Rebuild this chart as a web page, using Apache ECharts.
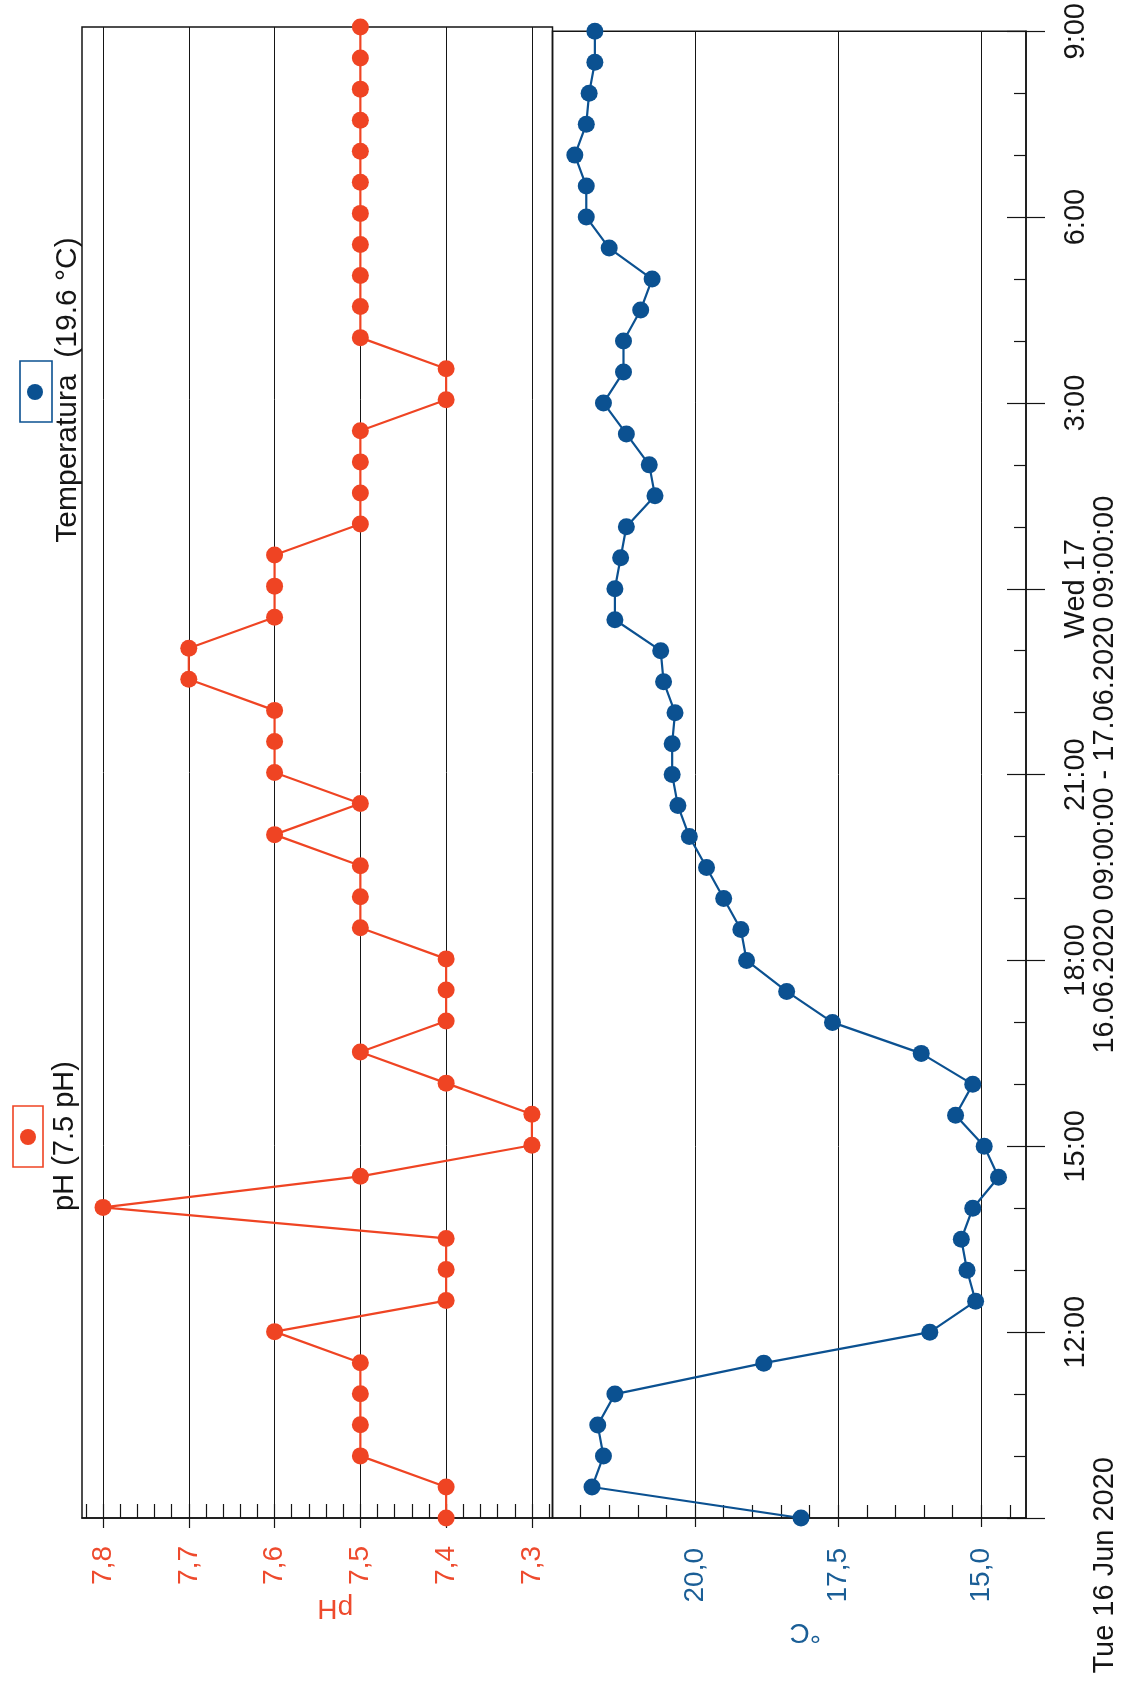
<!DOCTYPE html>
<html>
<head>
<meta charset="utf-8">
<script src="https://cdn.jsdelivr.net/npm/echarts@6/dist/echarts.min.js"></script>
<style>
html,body{margin:0;padding:0;background:#ffffff;}
#chart{width:1135px;height:1684px;}
</style>
</head>
<body>
<div id="chart"></div>
<script>
// ---- data (every 30 minutes) ----
const times = [
 '2020-06-16 09:00','2020-06-16 09:30','2020-06-16 10:00','2020-06-16 10:30','2020-06-16 11:00','2020-06-16 11:30',
 '2020-06-16 12:00','2020-06-16 12:30','2020-06-16 13:00','2020-06-16 13:30','2020-06-16 14:00','2020-06-16 14:30',
 '2020-06-16 15:00','2020-06-16 15:30','2020-06-16 16:00','2020-06-16 16:30','2020-06-16 17:00','2020-06-16 17:30',
 '2020-06-16 18:00','2020-06-16 18:30','2020-06-16 19:00','2020-06-16 19:30','2020-06-16 20:00','2020-06-16 20:30',
 '2020-06-16 21:00','2020-06-16 21:30','2020-06-16 22:00','2020-06-16 22:30','2020-06-16 23:00','2020-06-16 23:30',
 '2020-06-17 00:00','2020-06-17 00:30','2020-06-17 01:00','2020-06-17 01:30','2020-06-17 02:00','2020-06-17 02:30',
 '2020-06-17 03:00','2020-06-17 03:30','2020-06-17 04:00','2020-06-17 04:30','2020-06-17 05:00','2020-06-17 05:30',
 '2020-06-17 06:00','2020-06-17 06:30','2020-06-17 07:00','2020-06-17 07:30','2020-06-17 08:00','2020-06-17 08:30',
 '2020-06-17 09:00'
];
const phValues = [
 7.4,7.4,7.5,7.5,7.5,7.5,
 7.6,7.4,7.4,7.4,7.8,7.5,
 7.3,7.3,7.4,7.5,7.4,7.4,
 7.4,7.5,7.5,7.5,7.6,7.5,
 7.6,7.6,7.6,7.7,7.7,7.6,
 7.6,7.6,7.5,7.5,7.5,7.5,
 7.4,7.4,7.5,7.5,7.5,7.5,
 7.5,7.5,7.5,7.5,7.5,7.5,
 7.5
];
const tempValues = [
 18.15,21.8,21.6,21.7,21.4,18.8,
 15.9,15.1,15.25,15.35,15.15,14.7,
 14.95,15.45,15.15,16.05,17.6,18.4,
 19.1,19.2,19.5,19.8,20.1,20.3,
 20.4,20.4,20.35,20.55,20.6,21.4,
 21.4,21.3,21.2,20.7,20.8,21.2,
 21.6,21.25,21.25,20.95,20.75,21.5,
 21.9,21.9,22.1,21.9,21.85,21.75,
 21.75
];
const phTicks = [7.3, 7.4, 7.5, 7.6, 7.7, 7.8];
const tempTicks = [15.0, 17.5, 20.0];
const timeTickLabels = ['Tue 16 Jun 2020','12:00','15:00','18:00','21:00','Wed 17','3:00','6:00','9:00'];
const axisTitle = '16.06.2020 09:00:00 - 17.06.2020 09:00:00';
const phLegend = 'pH (7.5 pH)';
const tempLegend = 'Temperatura  (19.6 °C)';

// ---- helpers ----
const startMs = Date.parse(times[0].replace(' ', 'T') + ':00Z');
const hours = times.map(t => (Date.parse(t.replace(' ', 'T') + ':00Z') - startMs) / 3600000);
const totalHours = hours[hours.length - 1];

const phMin = 7.276, phMax = 7.8245;
const tMin = 14.22, tMax = 22.49;
function stepList(from, to, step) {
  const out = [];
  for (let k = 0; from + k * step <= to + 1e-9; k++) out.push(+(from + k * step).toFixed(3));
  return out;
}
const phMinor = stepList(7.28, 7.82, 0.02);
const tempMinor = stepList(14.5, 22.0, 0.5);

const FONT = '"Liberation Sans", Arial, sans-serif';
const PH_COLOR = '#ef4423';
const PH_TEXT = '#ee4a2d';
const T_COLOR = '#0b5191';
const T_TEXT = '#1a5e96';
const INK = '#151515';

const comma = v => Number(v).toFixed(1).replace('.', ',');

const chart = echarts.init(document.getElementById('chart'));
const option = {
  backgroundColor: '#ffffff',
  animation: false,
  grid: [
    {left: 82, top: 27, width: 470.5, height: 1491, show: true, borderColor: INK, borderWidth: 1.5, backgroundColor: 'transparent'},
    {left: 552.5, top: 27, width: 473.5, height: 1491, show: true, borderColor: INK, borderWidth: 1.5, backgroundColor: 'transparent'}
  ],
  xAxis: [
    { // pH main
      gridIndex: 0, type: 'value', position: 'bottom', inverse: true, min: phMin, max: phMax,
      axisLine: {show: true, lineStyle: {color: INK, width: 1.5}},
      axisTick: {show: true, customValues: phTicks, length: 10, lineStyle: {color: INK, width: 1.2}},
      axisLabel: {show: true, customValues: phTicks, rotate: 90, margin: 28, color: PH_TEXT, fontSize: 28, fontFamily: FONT, formatter: comma},
      splitLine: {show: true, lineStyle: {color: INK, width: 1}},
      name: 'pH', nameLocation: 'middle', nameGap: 76, nameRotate: 180,
      nameTextStyle: {color: PH_TEXT, fontSize: 28, fontFamily: FONT, padding: [0, 36, 0, 0]}
    },
    { // pH minor ticks
      gridIndex: 0, type: 'value', position: 'bottom', inverse: true, min: phMin, max: phMax,
      axisLine: {show: false},
      axisTick: {show: true, inside: true, customValues: phMinor, length: 14, lineStyle: {color: INK, width: 1.2}},
      axisLabel: {show: false}, splitLine: {show: false}
    },
    { // temperature main
      gridIndex: 1, type: 'value', position: 'bottom', inverse: true, min: tMin, max: tMax,
      axisLine: {show: true, lineStyle: {color: INK, width: 1.5}},
      axisTick: {show: true, customValues: tempTicks, length: 9, lineStyle: {color: INK, width: 1.2}},
      axisLabel: {show: true, customValues: tempTicks, rotate: 90, margin: 30, color: T_TEXT, fontSize: 28, fontFamily: FONT, formatter: comma},
      splitLine: {show: true, lineStyle: {color: INK, width: 1}},
      name: '°C', nameLocation: 'middle', nameGap: 100, nameRotate: 180,
      nameTextStyle: {color: T_TEXT, fontSize: 28, fontFamily: FONT, padding: [0, 32, 0, 0]}
    },
    { // temperature minor ticks
      gridIndex: 1, type: 'value', position: 'bottom', inverse: true, min: tMin, max: tMax,
      axisLine: {show: false},
      axisTick: {show: true, inside: true, customValues: tempMinor, length: 13, lineStyle: {color: INK, width: 1.2}},
      axisLabel: {show: false}, splitLine: {show: false}
    }
  ],
  yAxis: [
    { // time axis for pH panel (not drawn)
      gridIndex: 0, type: 'value', min: 0, max: totalHours, interval: 3, show: false
    },
    { // time axis main (right)
      gridIndex: 1, type: 'value', position: 'right', min: 0, max: totalHours, interval: 3,
      axisLine: {show: true, lineStyle: {color: INK, width: 1.5}},
      axisTick: {show: true, length: 19, lineStyle: {color: INK, width: 1.2}},
      axisLabel: {show: true, rotate: 90, margin: 35, color: INK, fontSize: 29, fontFamily: FONT,
        showMinLabel: true, showMaxLabel: true,
        formatter: v => { const i = Math.round(v / 3); return i === 0 ? '' : timeTickLabels[i]; }},
      splitLine: {show: false},
      name: axisTitle, nameLocation: 'middle', nameGap: 64, nameRotate: 90,
      nameTextStyle: {color: INK, fontSize: 29, fontFamily: FONT}
    },
    { // inside ticks + hourly minor ticks
      gridIndex: 1, type: 'value', position: 'right', min: 0, max: totalHours, interval: 3,
      axisLine: {show: false},
      axisTick: {show: true, inside: true, length: 19, lineStyle: {color: INK, width: 1.2}},
      minorTick: {show: true, splitNumber: 3, length: 12, lineStyle: {color: INK, width: 1.2}},
      axisLabel: {show: false}, splitLine: {show: false}
    }
  ],
  graphic: [
    { // first time label
      type: 'text', x: 1105, y: 1457, rotation: Math.PI / 2,
      style: {text: timeTickLabels[0], font: '29px ' + FONT, fill: INK, align: 'right', textAlign: 'right', verticalAlign: 'middle', textVerticalAlign: 'middle'}
    },
    // temperature legend
    {type: 'rect', shape: {x: 20, y: 361, width: 32, height: 61}, style: {fill: 'none', stroke: T_COLOR, lineWidth: 1.6}},
    {type: 'circle', shape: {cx: 35, cy: 392, r: 8}, style: {fill: T_COLOR}},
    {type: 'text', x: 68, y: 390, rotation: Math.PI / 2,
     style: {text: tempLegend, font: '30px ' + FONT, fill: INK, align: 'center', textAlign: 'center', verticalAlign: 'middle', textVerticalAlign: 'middle'}},
    // pH legend
    {type: 'rect', shape: {x: 13, y: 1106, width: 30, height: 61}, style: {fill: 'none', stroke: PH_COLOR, lineWidth: 1.6}},
    {type: 'circle', shape: {cx: 28, cy: 1137, r: 8}, style: {fill: PH_COLOR}},
    {type: 'text', x: 65, y: 1136, rotation: Math.PI / 2,
     style: {text: phLegend, font: '29px ' + FONT, fill: INK, align: 'center', textAlign: 'center', verticalAlign: 'middle', textVerticalAlign: 'middle'}}
  ],
  series: [
    {
      name: 'pH', type: 'line', xAxisIndex: 0, yAxisIndex: 0,
      data: hours.map((h, i) => [phValues[i], h]),
      symbol: 'circle', symbolSize: 17, showAllSymbol: true,
      lineStyle: {color: PH_COLOR, width: 2.2}, itemStyle: {color: PH_COLOR},
      z: 5
    },
    {
      name: 'Temperatura', type: 'line', xAxisIndex: 2, yAxisIndex: 1,
      data: hours.map((h, i) => [tempValues[i], h]),
      symbol: 'circle', symbolSize: 17, showAllSymbol: true,
      lineStyle: {color: T_COLOR, width: 2.2}, itemStyle: {color: T_COLOR},
      z: 5
    }
  ]
};
chart.setOption(option);
</script>
</body>
</html>
